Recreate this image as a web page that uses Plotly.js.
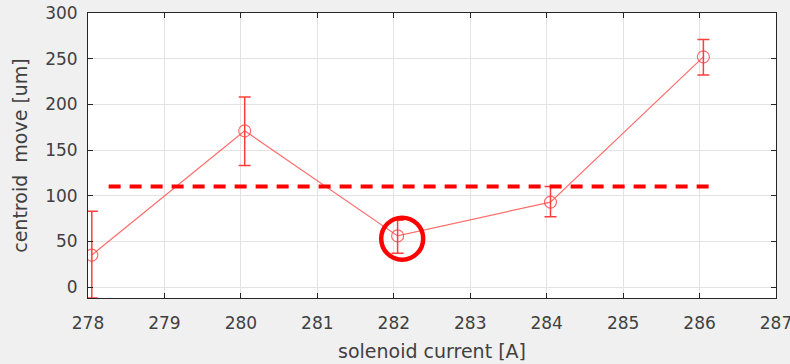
<!DOCTYPE html>
<html><head><meta charset="utf-8">
<script src="https://cdn.plot.ly/plotly-3.0.1.min.js"></script>
<style>html,body{margin:0;padding:0;background:#f0f0f0;}</style>
</head><body>
<div id="chart" style="width:790px;height:364px;"></div>
<script>
const current = [278.05, 280.05, 282.05, 284.05, 286.05];
const centroidMove = [35, 171, 56, 93, 252];
const errPlus = [48, 37, 17, 17, 19];
const errMinus = [47, 38, 19, 16, 20];
const thresholdX = [278.27, 286.12];
const thresholdY = [110, 110];
const highlightX = [282.11];
const highlightY = [53];
const xTicks = [278, 279, 280, 281, 282, 283, 284, 285, 286, 287];
const yTicks = [0, 50, 100, 150, 200, 250, 300];

const FONT = 'DejaVu Sans, Liberation Sans, Arial, sans-serif';

const traces = [
  {x: current, y: centroidMove, type: 'scatter', mode: 'lines+markers',
   line: {color: 'rgba(255,60,60,0.75)', width: 1.2},
   marker: {symbol: 'circle-open', size: 12, color: 'rgba(255,60,60,0.75)', line: {width: 1.2}},
   error_y: {type: 'data', symmetric: false, array: errPlus, arrayminus: errMinus,
             color: 'rgba(255,40,40,0.9)', thickness: 1.5, width: 6},
   showlegend: false, hoverinfo: 'skip'},
  {x: thresholdX, y: thresholdY, type: 'scatter', mode: 'lines',
   line: {color: '#ff0000', width: 4, dash: '12px,9px'}, showlegend: false},
  {x: highlightX, y: highlightY, type: 'scatter', mode: 'markers',
   marker: {symbol: 'circle-open', size: 42, color: '#ff0000', line: {width: 4.5}}, showlegend: false}
];

const axisCommon = {
  showline: true, linecolor: '#262626', linewidth: 1, mirror: 'ticks',
  ticks: 'inside', ticklen: 5, tickcolor: '#262626', tickwidth: 1,
  showgrid: true, gridcolor: '#e3e3e3', gridwidth: 1, zeroline: false,
  tickfont: {family: FONT, size: 17, color: '#404040'}
};

const layout = {
  width: 790, height: 364,
  paper_bgcolor: '#f0f0f0', plot_bgcolor: '#ffffff',
  margin: {l: 88, r: 14, t: 13, b: 66},
  xaxis: Object.assign({}, axisCommon, {range: [278, 287], tickvals: xTicks, ticklabelstandoff: 10,
    ticklabeloverflow: 'allow',
    title: {text: 'solenoid current [A]', standoff: 12, font: {family: FONT, size: 19, color: '#404040'}}}),
  yaxis: Object.assign({}, axisCommon, {range: [-12, 300], tickvals: yTicks, ticklabelstandoff: 6,
    title: {text: 'centroid  move [um]', standoff: 12, font: {family: FONT, size: 19, color: '#404040'}}}),
};

Plotly.newPlot('chart', traces, layout, {displayModeBar: false, staticPlot: true});
</script>
</body></html>
